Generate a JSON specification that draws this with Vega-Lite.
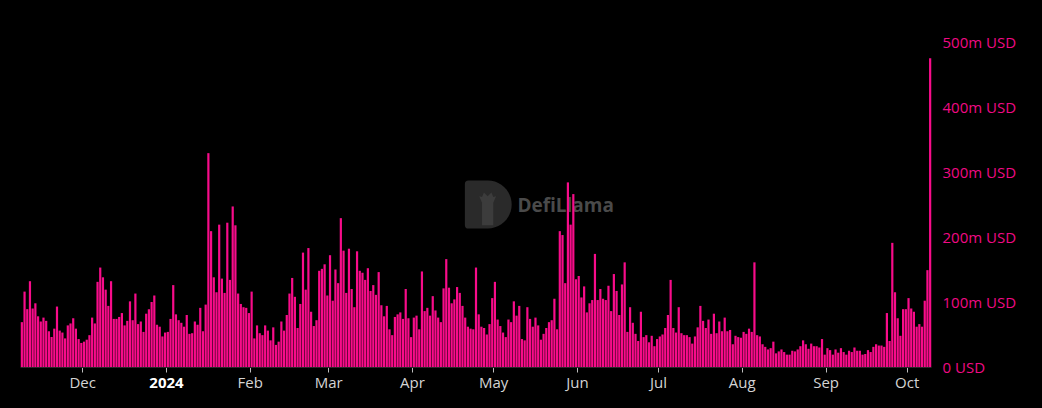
{
  "$schema": "https://vega.github.io/schema/vega-lite/v6.json",
  "width": 911,
  "height": 325,
  "autosize": {"type": "none"},
  "padding": {"left": 20, "top": 42, "right": 111, "bottom": 41},
  "background": "#000000",
  "config": {"view": {"stroke": null}, "font": "Open Sans"},
  "datasets": {
    "wm": [{"t": "DefiLlama"}],
    "vol": [
      {"d":"2023-11-08","v":69},{"d":"2023-11-09","v":116},{"d":"2023-11-10","v":89},{"d":"2023-11-11","v":132},{"d":"2023-11-12","v":90},{"d":"2023-11-13","v":98},{"d":"2023-11-14","v":78},{"d":"2023-11-15","v":70},{"d":"2023-11-16","v":76},{"d":"2023-11-17","v":71},{"d":"2023-11-18","v":55},{"d":"2023-11-19","v":46},{"d":"2023-11-20","v":59},{"d":"2023-11-21","v":93},{"d":"2023-11-22","v":56},{"d":"2023-11-23","v":53},{"d":"2023-11-24","v":44},{"d":"2023-11-25","v":64},{"d":"2023-11-26","v":67},{"d":"2023-11-27","v":75},{"d":"2023-11-28","v":59},{"d":"2023-11-29","v":43},{"d":"2023-11-30","v":37},
      {"d":"2023-12-01","v":39},{"d":"2023-12-02","v":42},{"d":"2023-12-03","v":49},{"d":"2023-12-04","v":76},{"d":"2023-12-05","v":67},{"d":"2023-12-06","v":131},{"d":"2023-12-07","v":153},{"d":"2023-12-08","v":138},{"d":"2023-12-09","v":119},{"d":"2023-12-10","v":94},{"d":"2023-12-11","v":132},{"d":"2023-12-12","v":74},{"d":"2023-12-13","v":74},{"d":"2023-12-14","v":77},{"d":"2023-12-15","v":83},{"d":"2023-12-16","v":64},{"d":"2023-12-17","v":71},{"d":"2023-12-18","v":101},{"d":"2023-12-19","v":72},{"d":"2023-12-20","v":113},{"d":"2023-12-21","v":66},{"d":"2023-12-22","v":70},{"d":"2023-12-23","v":54},{"d":"2023-12-24","v":82},{"d":"2023-12-25","v":89},{"d":"2023-12-26","v":100},{"d":"2023-12-27","v":110},{"d":"2023-12-28","v":65},{"d":"2023-12-29","v":62},{"d":"2023-12-30","v":47},{"d":"2023-12-31","v":53},
      {"d":"2024-01-01","v":54},{"d":"2024-01-02","v":74},{"d":"2024-01-03","v":126},{"d":"2024-01-04","v":81},{"d":"2024-01-05","v":72},{"d":"2024-01-06","v":68},{"d":"2024-01-07","v":62},{"d":"2024-01-08","v":80},{"d":"2024-01-09","v":51},{"d":"2024-01-10","v":52},{"d":"2024-01-11","v":70},{"d":"2024-01-12","v":65},{"d":"2024-01-13","v":91},{"d":"2024-01-14","v":55},{"d":"2024-01-15","v":96},{"d":"2024-01-16","v":329},{"d":"2024-01-17","v":209},{"d":"2024-01-18","v":138},{"d":"2024-01-19","v":115},{"d":"2024-01-20","v":219},{"d":"2024-01-21","v":136},{"d":"2024-01-22","v":114},{"d":"2024-01-23","v":222},{"d":"2024-01-24","v":134},{"d":"2024-01-25","v":247},{"d":"2024-01-26","v":218},{"d":"2024-01-27","v":113},{"d":"2024-01-28","v":97},{"d":"2024-01-29","v":92},{"d":"2024-01-30","v":91},{"d":"2024-01-31","v":83},
      {"d":"2024-02-01","v":116},{"d":"2024-02-02","v":44},{"d":"2024-02-03","v":64},{"d":"2024-02-04","v":52},{"d":"2024-02-05","v":49},{"d":"2024-02-06","v":64},{"d":"2024-02-07","v":56},{"d":"2024-02-08","v":41},{"d":"2024-02-09","v":61},{"d":"2024-02-10","v":34},{"d":"2024-02-11","v":39},{"d":"2024-02-12","v":70},{"d":"2024-02-13","v":56},{"d":"2024-02-14","v":80},{"d":"2024-02-15","v":113},{"d":"2024-02-16","v":137},{"d":"2024-02-17","v":108},{"d":"2024-02-18","v":60},{"d":"2024-02-19","v":97},{"d":"2024-02-20","v":176},{"d":"2024-02-21","v":119},{"d":"2024-02-22","v":183},{"d":"2024-02-23","v":85},{"d":"2024-02-24","v":63},{"d":"2024-02-25","v":72},{"d":"2024-02-26","v":148},{"d":"2024-02-27","v":151},{"d":"2024-02-28","v":158},{"d":"2024-02-29","v":110},
      {"d":"2024-03-01","v":172},{"d":"2024-03-02","v":102},{"d":"2024-03-03","v":150},{"d":"2024-03-04","v":129},{"d":"2024-03-05","v":229},{"d":"2024-03-06","v":179},{"d":"2024-03-07","v":114},{"d":"2024-03-08","v":182},{"d":"2024-03-09","v":120},{"d":"2024-03-10","v":92},{"d":"2024-03-11","v":178},{"d":"2024-03-12","v":148},{"d":"2024-03-13","v":145},{"d":"2024-03-14","v":134},{"d":"2024-03-15","v":152},{"d":"2024-03-16","v":117},{"d":"2024-03-17","v":126},{"d":"2024-03-18","v":111},{"d":"2024-03-19","v":146},{"d":"2024-03-20","v":95},{"d":"2024-03-21","v":78},{"d":"2024-03-22","v":94},{"d":"2024-03-23","v":58},{"d":"2024-03-24","v":49},{"d":"2024-03-25","v":77},{"d":"2024-03-26","v":81},{"d":"2024-03-27","v":84},{"d":"2024-03-28","v":74},{"d":"2024-03-29","v":120},{"d":"2024-03-30","v":75},{"d":"2024-03-31","v":46},
      {"d":"2024-04-01","v":76},{"d":"2024-04-02","v":79},{"d":"2024-04-03","v":58},{"d":"2024-04-04","v":147},{"d":"2024-04-05","v":86},{"d":"2024-04-06","v":91},{"d":"2024-04-07","v":79},{"d":"2024-04-08","v":109},{"d":"2024-04-09","v":87},{"d":"2024-04-10","v":76},{"d":"2024-04-11","v":69},{"d":"2024-04-12","v":121},{"d":"2024-04-13","v":166},{"d":"2024-04-14","v":122},{"d":"2024-04-15","v":98},{"d":"2024-04-16","v":104},{"d":"2024-04-17","v":123},{"d":"2024-04-18","v":114},{"d":"2024-04-19","v":94},{"d":"2024-04-20","v":76},{"d":"2024-04-21","v":62},{"d":"2024-04-22","v":59},{"d":"2024-04-23","v":58},{"d":"2024-04-24","v":153},{"d":"2024-04-25","v":81},{"d":"2024-04-26","v":62},{"d":"2024-04-27","v":60},{"d":"2024-04-28","v":50},{"d":"2024-04-29","v":66},{"d":"2024-04-30","v":106},
      {"d":"2024-05-01","v":131},{"d":"2024-05-02","v":73},{"d":"2024-05-03","v":63},{"d":"2024-05-04","v":53},{"d":"2024-05-05","v":46},{"d":"2024-05-06","v":73},{"d":"2024-05-07","v":69},{"d":"2024-05-08","v":101},{"d":"2024-05-09","v":79},{"d":"2024-05-10","v":94},{"d":"2024-05-11","v":43},{"d":"2024-05-12","v":41},{"d":"2024-05-13","v":92},{"d":"2024-05-14","v":74},{"d":"2024-05-15","v":62},{"d":"2024-05-16","v":76},{"d":"2024-05-17","v":64},{"d":"2024-05-18","v":42},{"d":"2024-05-19","v":51},{"d":"2024-05-20","v":60},{"d":"2024-05-21","v":69},{"d":"2024-05-22","v":72},{"d":"2024-05-23","v":105},{"d":"2024-05-24","v":58},{"d":"2024-05-25","v":209},{"d":"2024-05-26","v":203},{"d":"2024-05-27","v":129},{"d":"2024-05-28","v":284},{"d":"2024-05-29","v":219},{"d":"2024-05-30","v":266},{"d":"2024-05-31","v":135},
      {"d":"2024-06-01","v":140},{"d":"2024-06-02","v":107},{"d":"2024-06-03","v":124},{"d":"2024-06-04","v":84},{"d":"2024-06-05","v":98},{"d":"2024-06-06","v":103},{"d":"2024-06-07","v":174},{"d":"2024-06-08","v":103},{"d":"2024-06-09","v":120},{"d":"2024-06-10","v":105},{"d":"2024-06-11","v":103},{"d":"2024-06-12","v":125},{"d":"2024-06-13","v":86},{"d":"2024-06-14","v":143},{"d":"2024-06-15","v":117},{"d":"2024-06-16","v":80},{"d":"2024-06-17","v":127},{"d":"2024-06-18","v":161},{"d":"2024-06-19","v":54},{"d":"2024-06-20","v":92},{"d":"2024-06-21","v":68},{"d":"2024-06-22","v":51},{"d":"2024-06-23","v":40},{"d":"2024-06-24","v":85},{"d":"2024-06-25","v":46},{"d":"2024-06-26","v":49},{"d":"2024-06-27","v":38},{"d":"2024-06-28","v":48},{"d":"2024-06-29","v":32},{"d":"2024-06-30","v":43},
      {"d":"2024-07-01","v":47},{"d":"2024-07-02","v":50},{"d":"2024-07-03","v":60},{"d":"2024-07-04","v":80},{"d":"2024-07-05","v":134},{"d":"2024-07-06","v":60},{"d":"2024-07-07","v":53},{"d":"2024-07-08","v":92},{"d":"2024-07-09","v":52},{"d":"2024-07-10","v":49},{"d":"2024-07-11","v":49},{"d":"2024-07-12","v":46},{"d":"2024-07-13","v":36},{"d":"2024-07-14","v":47},{"d":"2024-07-15","v":61},{"d":"2024-07-16","v":94},{"d":"2024-07-17","v":71},{"d":"2024-07-18","v":60},{"d":"2024-07-19","v":73},{"d":"2024-07-20","v":51},{"d":"2024-07-21","v":82},{"d":"2024-07-22","v":52},{"d":"2024-07-23","v":70},{"d":"2024-07-24","v":55},{"d":"2024-07-25","v":76},{"d":"2024-07-26","v":55},{"d":"2024-07-27","v":57},{"d":"2024-07-28","v":35},{"d":"2024-07-29","v":48},{"d":"2024-07-30","v":46},{"d":"2024-07-31","v":45},
      {"d":"2024-08-01","v":54},{"d":"2024-08-02","v":51},{"d":"2024-08-03","v":59},{"d":"2024-08-04","v":54},{"d":"2024-08-05","v":161},{"d":"2024-08-06","v":49},{"d":"2024-08-07","v":47},{"d":"2024-08-08","v":35},{"d":"2024-08-09","v":31},{"d":"2024-08-10","v":27},{"d":"2024-08-11","v":29},{"d":"2024-08-12","v":39},{"d":"2024-08-13","v":21},{"d":"2024-08-14","v":24},{"d":"2024-08-15","v":27},{"d":"2024-08-16","v":23},{"d":"2024-08-17","v":19},{"d":"2024-08-18","v":19},{"d":"2024-08-19","v":25},{"d":"2024-08-20","v":24},{"d":"2024-08-21","v":27},{"d":"2024-08-22","v":32},{"d":"2024-08-23","v":41},{"d":"2024-08-24","v":35},{"d":"2024-08-25","v":28},{"d":"2024-08-26","v":36},{"d":"2024-08-27","v":32},{"d":"2024-08-28","v":32},{"d":"2024-08-29","v":30},{"d":"2024-08-30","v":43},{"d":"2024-08-31","v":19},
      {"d":"2024-09-01","v":29},{"d":"2024-09-02","v":26},{"d":"2024-09-03","v":19},{"d":"2024-09-04","v":27},{"d":"2024-09-05","v":22},{"d":"2024-09-06","v":29},{"d":"2024-09-07","v":23},{"d":"2024-09-08","v":19},{"d":"2024-09-09","v":25},{"d":"2024-09-10","v":23},{"d":"2024-09-11","v":30},{"d":"2024-09-12","v":25},{"d":"2024-09-13","v":25},{"d":"2024-09-14","v":19},{"d":"2024-09-15","v":20},{"d":"2024-09-16","v":26},{"d":"2024-09-17","v":23},{"d":"2024-09-18","v":31},{"d":"2024-09-19","v":35},{"d":"2024-09-20","v":33},{"d":"2024-09-21","v":33},{"d":"2024-09-22","v":31},{"d":"2024-09-23","v":83},{"d":"2024-09-24","v":40},{"d":"2024-09-25","v":191},{"d":"2024-09-26","v":115},{"d":"2024-09-27","v":75},{"d":"2024-09-28","v":48},{"d":"2024-09-29","v":89},{"d":"2024-09-30","v":89},
      {"d":"2024-10-01","v":106},{"d":"2024-10-02","v":90},{"d":"2024-10-03","v":85},{"d":"2024-10-04","v":62},{"d":"2024-10-05","v":66},{"d":"2024-10-06","v":62},{"d":"2024-10-07","v":102},{"d":"2024-10-08","v":149},{"d":"2024-10-09","v":475}
    ]
  },
  "layer": [
    {
      "data": {"name": "wm"},
      "mark": {"type": "point", "shape": "M -0.95 -0.85 Q -0.95 -1 -0.8 -1 L 0 -1 A 1 1 0 0 1 0 1 L -0.8 1 Q -0.95 1 -0.95 0.85 Z", "filled": true, "color": "#2a2a2a", "opacity": 1, "size": 2304},
      "encoding": {
        "x": {"datum": {"year": 2024, "month": 4, "date": 29, "utc": true}, "type": "temporal"},
        "y": {"datum": 250, "type": "quantitative"}
      }
    },
    {
      "data": {"name": "wm"},
      "mark": {"type": "point", "shape": "M -0.3 1 L -0.3 -0.2 L -0.45 -0.55 L -0.3 -0.5 L -0.2 -0.75 L 0 -0.55 L 0.2 -0.75 L 0.3 -0.5 L 0.45 -0.55 L 0.3 -0.2 L 0.3 1 Z", "filled": true, "color": "#3c3c3c", "opacity": 1, "size": 1400},
      "encoding": {
        "x": {"datum": {"year": 2024, "month": 4, "date": 29, "utc": true}, "type": "temporal"},
        "y": {"datum": 247, "type": "quantitative"}
      }
    },
    {
      "data": {"name": "wm"},
      "mark": {"type": "text", "align": "left", "baseline": "middle", "fontSize": 19, "fontWeight": "bold", "color": "#4a4a4a"},
      "encoding": {
        "x": {"datum": {"year": 2024, "month": 5, "date": 10, "utc": true}, "type": "temporal"},
        "y": {"datum": 248, "type": "quantitative"},
        "text": {"field": "t"}
      }
    },
    {
      "data": {"name": "vol"},
      "mark": {"type": "bar", "color": "#f80c8a", "binSpacing": 0.5},
      "encoding": {
        "x": {
          "field": "d", "timeUnit": "utcyearmonthdate", "type": "temporal",
          "scale": {"domain": [{"year": 2023, "month": 11, "date": 8, "utc": true}, {"year": 2024, "month": 10, "date": 10, "utc": true}]},
          "axis": {
            "title": null, "grid": false,
            "values": [
              {"year": 2023, "month": 12, "date": 1, "utc": true},
              {"year": 2024, "month": 1, "date": 1, "utc": true},
              {"year": 2024, "month": 2, "date": 1, "utc": true},
              {"year": 2024, "month": 3, "date": 1, "utc": true},
              {"year": 2024, "month": 4, "date": 1, "utc": true},
              {"year": 2024, "month": 5, "date": 1, "utc": true},
              {"year": 2024, "month": 6, "date": 1, "utc": true},
              {"year": 2024, "month": 7, "date": 1, "utc": true},
              {"year": 2024, "month": 8, "date": 1, "utc": true},
              {"year": 2024, "month": 9, "date": 1, "utc": true},
              {"year": 2024, "month": 10, "date": 1, "utc": true}
            ],
            "labelExpr": "utcmonth(datum.value) == 0 ? utcFormat(datum.value, '%Y') : utcFormat(datum.value, '%b')",
            "labelFontWeight": {"condition": {"test": "utcmonth(datum.value) == 0", "value": "bold"}, "value": "normal"},
            "labelColor": {"condition": {"test": "utcmonth(datum.value) == 0", "value": "#ffffff"}, "value": "#d4d4d4"},
            "labelFontSize": 15,
            "labelPadding": 3,
            "labelFlush": false,
            "labelOverlap": false,
            "domainColor": "#2a2a2a",
            "tickColor": "#bdbdbd",
            "tickSize": 5
          }
        },
        "y": {
          "field": "v", "type": "quantitative",
          "scale": {"domain": [0, 500], "nice": false},
          "axis": {
            "title": null, "orient": "right", "domain": false, "ticks": false,
            "values": [0, 100, 200, 300, 400, 500],
            "labelExpr": "datum.value == 0 ? '0 USD' : datum.value + 'm USD'",
            "labelColor": "#f00a84", "labelFontSize": 15, "labelPadding": 11,
            "gridColor": "#1d1d1d", "gridWidth": 1
          }
        }
      }
    }
  ]
}
